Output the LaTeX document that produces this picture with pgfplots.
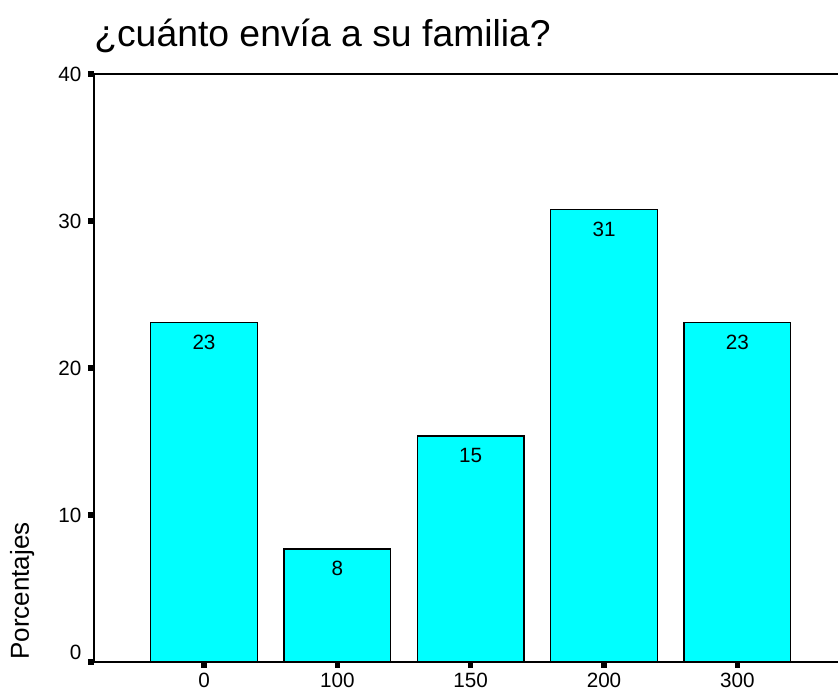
\documentclass[border=0pt]{standalone}
\usepackage{fontspec}
\setmainfont{Liberation Sans}
\usepackage{pgfplots}
\pgfplotsset{compat=1.18}
\definecolor{barcyan}{RGB}{0,255,255}

\begin{document}
\begin{tikzpicture}
\begin{axis}[
  name=ax,
  scale only axis,
  width=567.5pt, height=441pt,
  xmin=-0.825, xmax=4.85,
  ymin=0, ymax=40,
  ybar, bar width=0.8,
  xtick=data,
  xticklabels={0,100,150,200,300},
  ytick={10,20,30,40},
  extra y ticks={0},
  extra y tick style={yticklabel style={yshift=7.5pt}},
  tick align=outside, xtick pos=bottom, ytick pos=left,
  major tick length=4.5pt,
  every tick/.style={black, line width=4pt},
  axis line style={line width=1.5pt},
  ticklabel style={font=\fontsize{15.5}{18}\selectfont},
  xticklabel style={yshift=-0.5pt},
  yticklabel style={xshift=-1.5pt},
  /pgf/number format/assume math mode=true,
  nodes near coords={\pgfmathprintnumber[fixed,precision=0]{\pgfplotspointmeta}},
  nodes near coords style={font=\fontsize{15.5}{18}\selectfont, anchor=north, inner sep=0pt, yshift=-8.5pt},
]
\addplot[fill=barcyan, draw=black, line width=1.1pt]
  coordinates {(0,23.08) (1,7.69) (2,15.38) (3,30.77) (4,23.08)};
\end{axis}
\node[anchor=base west, inner sep=0pt, font=\fontsize{28}{34}\selectfont]
  at ([shift={(0pt,20.25pt)}]ax.north west) {¿cuánto envía a su familia?};
\node[rotate=90, anchor=base west, inner sep=0pt, font=\fontsize{19.5}{23}\selectfont]
  at ([shift={(-48.75pt,1.5pt)}]ax.south west) {Porcentajes};
\pgfresetboundingbox
\path[use as bounding box] ([shift={(-70.5pt,-21.75pt)}]ax.south west) rectangle ([shift={(558pt,55.5pt)}]ax.north west);
\end{tikzpicture}
\end{document}
